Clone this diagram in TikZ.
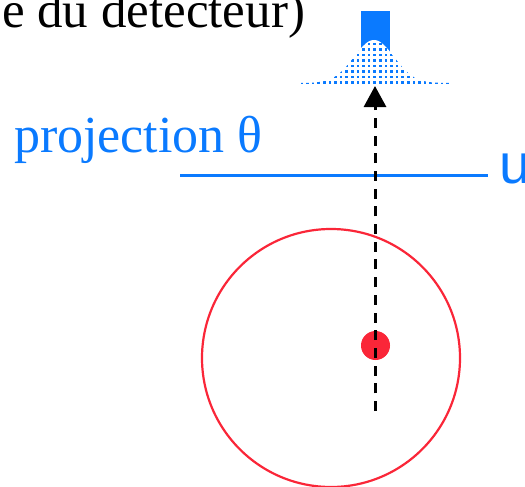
\documentclass[tikz,border=0pt]{standalone}
\usepackage{fontspec}
\setmainfont{Liberation Serif}
\newfontfamily\usans{Liberation Sans}
\usetikzlibrary{arrows.meta}
\definecolor{pblue}{RGB}{10,122,255}
\definecolor{pred}{RGB}{250,38,56}
\tikzset{
  lbl/.style={inner sep=0pt, outer sep=0pt},
  axisline/.style={draw=pblue, line width=3pt},
  ray/.style={line width=3pt, dash pattern=on 10pt off 7.7pt, -{Triangle[width=22pt,length=21pt]}},
}
\begin{document}
\begin{tikzpicture}[x=1pt,y=-1pt]
\useasboundingbox (0,0) rectangle (525,487);
\clip (0,0) rectangle (525,487);
% title text
\node[lbl, anchor=base east, font=\fontsize{51}{55}\selectfont] (title) at (305,28) {e du detecteur)};
% detector box
\fill[pblue] (361,11) rectangle (390,58);
% gaussian
\begin{scope}
  \fill[white] plot[domain=300:450, samples=80, smooth] (\x,{83-43*exp(-(\x-374)*(\x-374)/800)}) -- (450,84) -- (300,84) -- cycle;
  \clip plot[domain=300:450, samples=80, smooth] (\x,{83-43*exp(-(\x-374)*(\x-374)/800)}) -- (450,85) -- (300,85) -- cycle;
  \foreach \i in {0,...,26} {
    \foreach \j in {0,...,8} {
      \fill[pblue] ({300.5+\i*5.6},{84-\j*5.5}) rectangle ++(2.7,-2.7);
    }
  }
\end{scope}
% projection line
\coordinate (pl) at (180,175);
\coordinate (pr) at (488,175);
\draw[axisline] (pl) -- (pr);
\node[lbl, anchor=base west, text=pblue, font=\fontsize{52}{56}\selectfont] (proj) at (14,152) {projection θ};
\node[lbl, anchor=base west, text=pblue, font=\usans\fontsize{56}{60}\selectfont] (u) at (499.5,183) {u};
% object
\node[draw=pred, line width=2.2pt, circle, minimum size=258pt, inner sep=0pt] (obj) at (331,358) {};
\node[fill=pred, circle, minimum size=29pt, inner sep=0pt] (pt) at (375.5,345.5) {};
% ray
\coordinate (rb) at (375,411);
\coordinate (rt) at (375,86);
\draw[ray] (rb) -- (rt);
\end{tikzpicture}
\end{document}
